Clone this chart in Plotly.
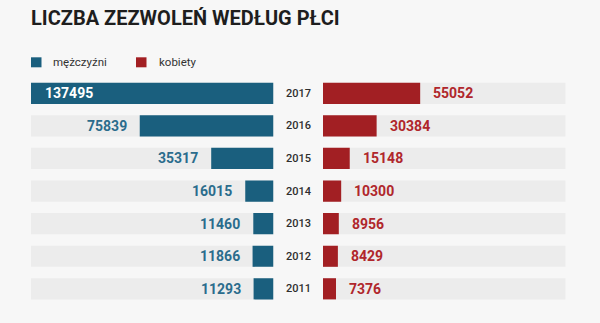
import plotly.graph_objects as go

years = ["2017", "2016", "2015", "2014", "2013", "2012", "2011"]
men = [137495, 75839, 35317, 16015, 11460, 11866, 11293]
women = [55052, 30384, 15148, 10300, 8956, 8429, 7376]
title = "LICZBA ZEZWOLEŃ WEDŁUG PŁCI"
legend_labels = ["mężczyźni", "kobiety"]

BLUE = "#1a5f7e"
RED = "#a21f23"
BLUE_TXT = "#2b6c8c"
RED_TXT = "#b0262b"
BAND = "#ececec"
BG = "#f7f7f7"
FONT = "Roboto"

W, H = 600, 323
xmax = max(men)
band = [xmax] * len(years)
pos = list(range(len(years)))  # row index of each year (category slot)

fig = go.Figure()
fig.add_trace(go.Bar(y=pos, x=band, orientation="h", marker=dict(color=BAND, line_width=0),
                     xaxis="x", yaxis="y", hoverinfo="skip", showlegend=False))
fig.add_trace(go.Bar(y=pos, x=band, orientation="h", marker=dict(color=BAND, line_width=0),
                     xaxis="x2", yaxis="y", hoverinfo="skip", showlegend=False))
fig.add_trace(go.Bar(y=pos, x=men, orientation="h", marker=dict(color=BLUE, line_width=0),
                     xaxis="x", yaxis="y", name=legend_labels[0], showlegend=False,
                     customdata=years, hovertemplate="%{customdata}: %{x}<extra></extra>"))
fig.add_trace(go.Bar(y=pos, x=women, orientation="h", marker=dict(color=RED, line_width=0),
                     xaxis="x2", yaxis="y", name=legend_labels[1], showlegend=False,
                     customdata=years, hovertemplate="%{customdata}: %{x}<extra></extra>"))

VAL_SIZE = 14
annotations = []
for p, yr, m, w in zip(pos, years, men, women):
    if m == xmax:
        annotations.append(dict(x=m, y=p, xref="x", yref="y", text=f"<b>{m}</b>", showarrow=False,
                                xanchor="left", xshift=12, font=dict(family=FONT, size=VAL_SIZE, color="white")))
    else:
        annotations.append(dict(x=m, y=p, xref="x", yref="y", text=f"<b>{m}</b>", showarrow=False,
                                xanchor="right", xshift=-11, font=dict(family=FONT, size=VAL_SIZE, color=BLUE_TXT)))
    annotations.append(dict(x=w, y=p, xref="x2", yref="y", text=f"<b>{w}</b>", showarrow=False,
                            xanchor="left", xshift=11, font=dict(family=FONT, size=VAL_SIZE, color=RED_TXT)))
    annotations.append(dict(x=298 / W, y=p, xref="paper", yref="y", text=yr, showarrow=False,
                            xanchor="center", font=dict(family=FONT, size=11, color="#2e2e2e", weight=500)))

annotations.append(dict(x=29 / W, y=1 - 18 / H, xref="paper", yref="paper", text=f"<b>{title}</b>",
                        showarrow=False, xanchor="left", yanchor="middle",
                        font=dict(family=FONT, size=20, color="#1e1e1e")))
annotations.append(dict(x=51 / W, y=1 - 62 / H, xref="paper", yref="paper", text=legend_labels[0],
                        showarrow=False, xanchor="left", yanchor="middle",
                        font=dict(family=FONT, size=11.5, color="#333333")))
annotations.append(dict(x=157 / W, y=1 - 62 / H, xref="paper", yref="paper", text=legend_labels[1],
                        showarrow=False, xanchor="left", yanchor="middle",
                        font=dict(family=FONT, size=11.5, color="#333333")))

shapes = [
    dict(type="rect", xref="paper", yref="paper", x0=31 / W, x1=41.5 / W, y0=1 - 67.3 / H, y1=1 - 57.3 / H,
         fillcolor=BLUE, line_width=0),
    dict(type="rect", xref="paper", yref="paper", x0=136 / W, x1=146.5 / W, y0=1 - 67.3 / H, y1=1 - 57.3 / H,
         fillcolor=RED, line_width=0),
]

row = 32.6
top = 93.3 - row / 2
bot = 288.8 + row / 2

fig.update_layout(
    width=W, height=H,
    margin=dict(l=0, r=0, t=0, b=0),
    paper_bgcolor=BG, plot_bgcolor=BG,
    barmode="overlay", bargap=0.35,
    showlegend=False,
    xaxis=dict(domain=[31 / W, 273.5 / W], range=[xmax, 0], visible=False, fixedrange=True, anchor="y"),
    xaxis2=dict(domain=[323 / W, 565.7 / W], range=[0, xmax], visible=False, fixedrange=True, anchor="y"),
    yaxis=dict(domain=[1 - bot / H, 1 - top / H], range=[len(years) - 0.5, -0.5],
               visible=False, fixedrange=True, anchor="x"),
    annotations=annotations,
    shapes=shapes,
)

fig.write_html("out.html")
